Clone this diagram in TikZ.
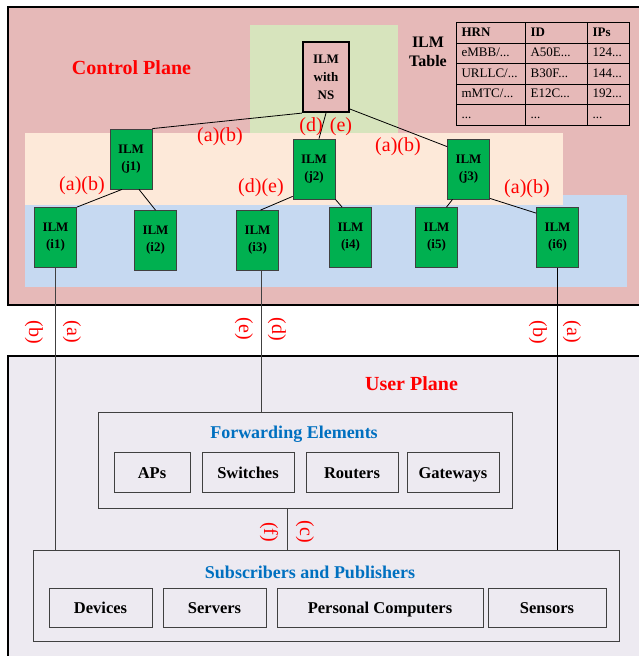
\documentclass[tikz,border=0pt]{standalone}
\usepackage{fontspec}
\setmainfont{Liberation Serif}
\usetikzlibrary{matrix}

\definecolor{cpfill}{HTML}{E6B9B8}
\definecolor{upfill}{HTML}{EDEAF1}
\definecolor{nsarea}{HTML}{D7E4BD}
\definecolor{jarea}{HTML}{FDE9D9}
\definecolor{iarea}{HTML}{C6D9F1}
\definecolor{ilmgreen}{HTML}{00B050}
\definecolor{edge}{HTML}{404040}
\definecolor{titleblue}{HTML}{0070C0}

\newcommand{\fs}[2]{\fontsize{#1}{#2}\selectfont}

\tikzset{
  plane/.style={draw=black, line width=2pt},
  ilm/.style={draw=edge, line width=0.8pt, fill=ilmgreen, minimum width=42pt,
    minimum height=60pt, inner sep=0pt, align=center, font=\fs{13}{17}\bfseries},
  nsbox/.style={draw=black, line width=2.2pt, fill=cpfill, minimum width=46pt,
    minimum height=70pt, inner sep=0pt, align=center, font=\fs{13}{18}\bfseries},
  lbl/.style={text=red, font=\fs{20}{22}, inner sep=0pt},
  vlbl/.style={lbl, rotate=-90},
  link/.style={draw=black, line width=0.8pt},
  group/.style={draw=edge, line width=1pt, inner sep=0pt},
  item/.style={draw=edge, line width=1pt, inner sep=0pt, text height=15pt,
    text depth=3pt, font=\fs{16.5}{19}\bfseries},
  gtitle/.style={text=titleblue, font=\fs{18}{20}\bfseries, inner sep=0pt},
  ptitle/.style={text=red, font=\fs{20}{24}\bfseries, inner sep=0pt},
}

\begin{document}
\begin{tikzpicture}[x=1pt, y=-1pt]
\useasboundingbox (0,0) rectangle (638,656);

% planes
\fill[white] (0,0) rectangle (638,656);
\draw[plane, fill=cpfill] (8,7) rectangle (650,305);
\draw[plane, fill=upfill] (8,356) rectangle (650,670);

% hierarchy bands
\fill[nsarea] (250,25) rectangle (398,133);
\fill[iarea] (25,195) rectangle (627,287);
\fill[jarea] (25,133) rectangle (563,205);

\node[ptitle] (cptitle) at (131.5,68) {Control Plane};
\node[ptitle] (uptitle) at (411.5,384) {User Plane};

% name service node and ILM table
\node[nsbox] (ns) at (326,77) {ILM\\with\\NS};
\node[font=\fs{16}{19}\bfseries, align=center, inner sep=0pt] (tabtitle) at (428,52) {ILM\\Table};

\matrix[matrix of nodes, anchor=north west, nodes in empty cells,
  inner sep=0pt, outer sep=0pt,
  column sep=-1.2pt, row sep=-1.2pt,
  nodes={draw=black, line width=1.2pt, minimum height=20.5pt, inner ysep=0pt,
    inner xsep=5pt, font=\fs{13}{15}, anchor=center, text height=9pt,
    text depth=2.5pt},
  column 1/.style={nodes={text width=59pt}},
  column 2/.style={nodes={text width=52pt}},
  column 3/.style={nodes={text width=32pt}},
  row 1/.style={nodes={font=\fs{13}{15}\bfseries}}] (tab) at (456,22) {
  HRN & ID & IPs \\
  eMBB/... & A50E... & 124... \\
  URLLC/... & B30F... & 144... \\
  mMTC/... & E12C... & 192... \\
  ... & ... & ... \\
};

% ILM nodes
\node[ilm] (j1) at (131,159) {ILM\\(j1)};
\node[ilm] (j2) at (314,169) {ILM\\(j2)};
\node[ilm] (j3) at (468.5,169) {ILM\\(j3)};
\node[ilm] (i1) at (55.5,237.5) {ILM\\(i1)};
\node[ilm] (i2) at (155.5,240.5) {ILM\\(i2)};
\node[ilm] (i3) at (257.5,240.5) {ILM\\(i3)};
\node[ilm] (i4) at (350.5,237.5) {ILM\\(i4)};
\node[ilm] (i5) at (436.5,237.5) {ILM\\(i5)};
\node[ilm] (i6) at (557.5,237.5) {ILM\\(i6)};

% hierarchy links
\draw[link] (ns.south west) -- (j1.north east);
\draw[link] (ns.south) -- ([xshift=5pt]j2.north);
\draw[link] ([yshift=4pt]ns.south east) -- ([yshift=-8pt]j3.north west);
\draw[link] ([xshift=-9pt]j1.south) -- (i1.north east);
\draw[link] ([xshift=8pt]j1.south) -- (i2.north);
\draw[link] ([yshift=3pt]j2.south west) -- ([xshift=3pt]i3.north);
\draw[link] (j2.south east) -- ([xshift=13pt]i4.north west);
\draw[link] ([xshift=-16pt]j3.south) -- ([xshift=10pt]i5.north);
\draw[link] ([yshift=1pt]j3.south east) -- ([yshift=-6pt]i6.north west);

\node[lbl] (l1) at (220,137) {(a)(b)};
\node[lbl] (l2) at (82,186) {(a)(b)};
\node[lbl] (l3) at (261,188) {(d)(e)};
\node[lbl] (l4) at (311,127) {(d)};
\node[lbl] (l5) at (341,127) {(e)};
\node[lbl] (l6) at (398,147) {(a)(b)};
\node[lbl] (l7) at (527,189) {(a)(b)};

% forwarding elements
\node[group, minimum width=414pt, minimum height=96pt] (fe) at (305,460) {};
\node[gtitle] (fetitle) at (294,434) {Forwarding Elements};
\node[item, minimum width=76pt, minimum height=40pt] (aps) at (152,472) {APs};
\node[item, minimum width=92pt, minimum height=40pt] (sw) at (248,472) {Switches};
\node[item, minimum width=92pt, minimum height=40pt] (rt) at (352,472) {Routers};
\node[item, minimum width=92pt, minimum height=40pt] (gw) at (453,472) {Gateways};

% subscribers and publishers
\node[group, minimum width=586pt, minimum height=91pt] (sp) at (326,595.5) {};
\node[gtitle] (sptitle) at (310,572) {Subscribers and Publishers};
\node[item, minimum width=103pt, minimum height=39pt] (dev) at (100.5,607.5) {Devices};
\node[item, minimum width=103pt, minimum height=39pt] (srv) at (214.5,607.5) {Servers};
\node[item, minimum width=206pt, minimum height=39pt] (pc) at (380,607.5) {Personal Computers};
\node[item, minimum width=118pt, minimum height=39pt] (sen) at (547,607.5) {Sensors};

% control to user plane links
\draw[link, draw=edge, line width=1pt] (i1.south) -- (i1.south |- sp.north);
\draw[link, draw=edge, line width=1pt] ([xshift=3.5pt]i3.south) -- ([xshift=3.5pt]i3.south |- fe.north);
\draw[link] (i6.south) -- (i6.south |- sp.north);
\draw[link, draw=edge, line width=1pt] ([xshift=-18pt]fe.south) -- ([xshift=-18pt]fe.south |- sp.north);

\node[vlbl] (v1) at (34,332) {(b)};
\node[vlbl] (v2) at (72,332) {(a)};
\node[vlbl] (v3) at (244,329) {(e)};
\node[vlbl] (v4) at (277,329) {(d)};
\node[vlbl] (v5) at (538,332) {(b)};
\node[vlbl] (v6) at (572,332) {(a)};
\node[vlbl] (v7) at (269,532) {(f)};
\node[vlbl] (v8) at (305,532) {(c)};
\end{tikzpicture}
\end{document}
